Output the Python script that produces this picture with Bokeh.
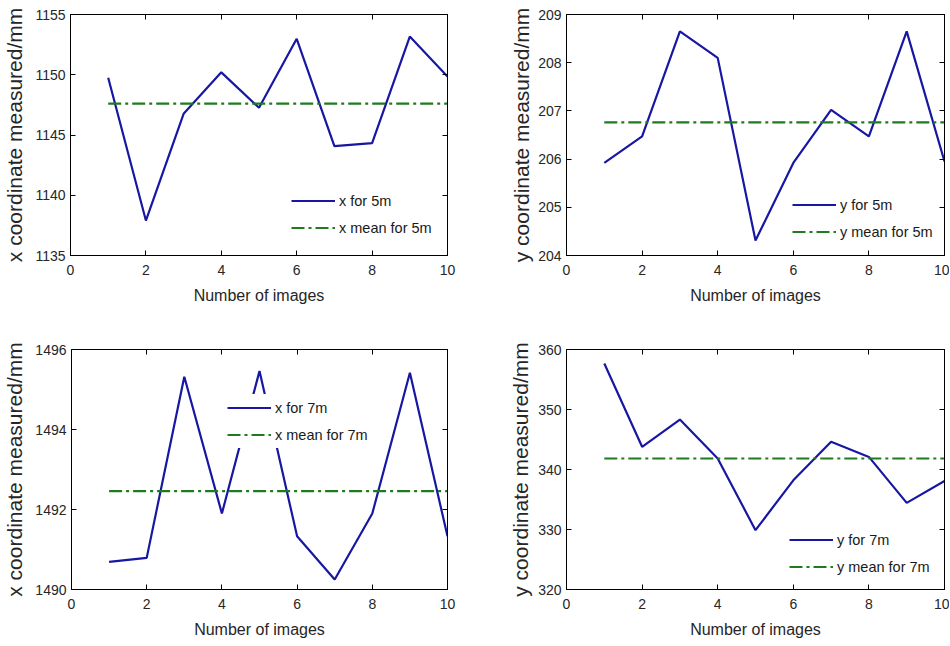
from bokeh.plotting import figure
from bokeh.layouts import column, row
from bokeh.models import Range1d, FixedTicker, LinearAxis, Legend, LegendItem
from bokeh.embed import file_html
from bokeh.resources import INLINE

# ---- data ----
images = [1, 2, 3, 4, 5, 6, 7, 8, 9, 10]
x_ticks = [0, 2, 4, 6, 8, 10]

x_5m = [1149.75, 1137.9, 1146.76, 1150.2, 1147.26, 1152.98, 1144.07, 1144.32, 1153.17, 1149.85]
x_5m_mean = 1147.6
y_5m = [205.92, 206.47, 208.65, 208.1, 204.31, 205.92, 207.02, 206.47, 208.65, 205.95]
y_5m_mean = 206.76
x_7m = [1490.69, 1490.79, 1495.32, 1491.9, 1495.46, 1491.33, 1490.25, 1491.9, 1495.42, 1491.33]
x_7m_mean = 1492.46
y_7m = [357.67, 343.78, 348.33, 341.83, 329.89, 338.2, 344.61, 342.1, 334.44, 338.1]
y_7m_mean = 341.83

ylim_x5 = (1135, 1155); yticks_x5 = [1135, 1140, 1145, 1150, 1155]
ylim_y5 = (204, 209);   yticks_y5 = [204, 205, 206, 207, 208, 209]
ylim_x7 = (1490, 1496); yticks_x7 = [1490, 1492, 1494, 1496]
ylim_y7 = (320, 360);   yticks_y7 = [320, 330, 340, 350, 360]

x_label = "Number of images"
ylabel_x = "x coordinate measured/mm"
ylabel_y = "y coordinate measured/mm"

FONT = "Liberation Sans"
BLUE = "#1717a3"
GREEN = "#1e7b1e"


def make_panel(yv, mean, ylim, yticks, ylabel, lab, mean_lab,
               width, height, bl, br, bt, bb, leg_loc, ylab_standoff):
    p = figure(width=width, height=height, output_backend="svg",
               toolbar_location=None, x_range=Range1d(0, 10),
               y_range=Range1d(*ylim),
               min_border_left=bl, min_border_right=br,
               min_border_top=bt, min_border_bottom=bb)
    p.xgrid.visible = False
    p.ygrid.visible = False
    p.outline_line_color = "black"
    p.outline_line_width = 1
    p.background_fill_color = "white"
    p.border_fill_color = "white"

    for ax, tk in ((p.xaxis[0], x_ticks), (p.yaxis[0], yticks)):
        ax.ticker = FixedTicker(ticks=tk)
        ax.major_tick_in = 5
        ax.major_tick_out = 0
        ax.minor_tick_line_color = None
        ax.axis_line_color = "black"
        ax.major_tick_line_color = "black"
        ax.major_label_text_font = FONT
        ax.major_label_text_font_size = "14px"
        ax.major_label_text_color = "#262626"
        ax.axis_label_text_font = FONT
        ax.axis_label_text_font_style = "normal"
        ax.axis_label_text_color = "#262626"
    p.xaxis.major_label_standoff = 9
    p.xaxis.axis_label = x_label
    p.xaxis.axis_label_text_font_size = "16px"
    p.xaxis.axis_label_standoff = 9
    p.yaxis.major_label_standoff = 5
    p.yaxis.axis_label = ylabel
    p.yaxis.axis_label_text_font_size = "21px"
    p.yaxis.axis_label_standoff = ylab_standoff

    top = LinearAxis(ticker=FixedTicker(ticks=x_ticks), major_tick_in=5,
                     major_tick_out=0, minor_tick_line_color=None,
                     major_label_text_color=None, major_label_text_font_size="1px",
                     major_label_standoff=0, axis_line_color="black")
    right = LinearAxis(ticker=FixedTicker(ticks=yticks), major_tick_in=5,
                       major_tick_out=0, minor_tick_line_color=None,
                       major_label_text_color=None, major_label_text_font_size="1px",
                       major_label_standoff=0, axis_line_color="black")
    p.add_layout(top, "above")
    p.add_layout(right, "right")

    r1 = p.line(images, yv, line_color=BLUE, line_width=2.2)
    r2 = p.line([images[0], images[-1]], [mean, mean], line_color=GREEN,
                line_width=2.2, line_dash="13 4 3 4")

    leg = Legend(items=[LegendItem(label=lab, renderers=[r1]),
                        LegendItem(label=mean_lab, renderers=[r2])],
                 location=leg_loc, border_line_color=None,
                 background_fill_color="white", background_fill_alpha=1.0,
                 padding=4, margin=0, spacing=0, glyph_width=44,
                 glyph_height=27, label_height=27, label_standoff=4,
                 label_text_font=FONT, label_text_font_size="14.5px",
                 label_text_color="#1a1a1a")
    p.add_layout(leg)
    return p


tl = make_panel(x_5m, x_5m_mean, ylim_x5, yticks_x5, ylabel_x, "x for 5m",
                "x mean for 5m", 475, 310, 70, 28, 14, 55, (221, 14), 6)
tr = make_panel(y_5m, y_5m_mean, ylim_y5, yticks_y5, ylabel_y, "y for 5m",
                "y mean for 5m", 474, 310, 91, 5, 14, 55, (226, 10), 2)
bl = make_panel(x_7m, x_7m_mean, ylim_x7, yticks_x7, ylabel_x, "x for 7m",
                "x mean for 7m", 475, 334, 70, 28, 39, 55, (156, 141), 6)
br = make_panel(y_7m, y_7m_mean, ylim_y7, yticks_y7, ylabel_y, "y for 7m",
                "y mean for 7m", 474, 334, 91, 5, 39, 55, (223, 9), 3)

layout = column(row(tl, tr), row(bl, br))
open("out.html", "w").write(file_html(layout, INLINE))
